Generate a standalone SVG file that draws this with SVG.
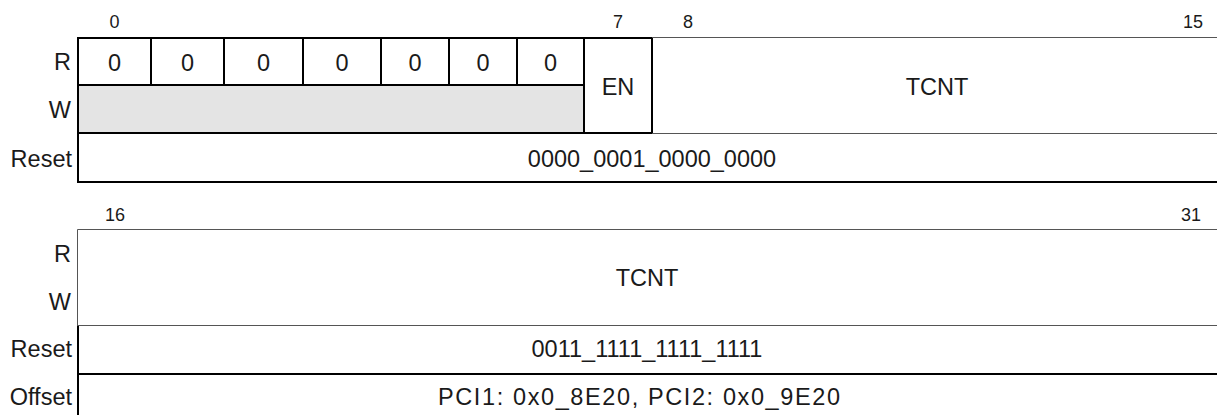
<svg xmlns="http://www.w3.org/2000/svg" width="1217" height="415" viewBox="0 0 1217 415">
<style>
text{font-family:"Liberation Sans",Arial,sans-serif;fill:#1a1a1a}
.lbl{font-size:23.5px;text-anchor:end}
.val{font-size:23.5px;text-anchor:middle}
.bit{font-size:18px;text-anchor:middle}
.thick{stroke:#000;stroke-width:2;fill:none}
.thin{stroke:#555;stroke-width:1;fill:none}
.wfill{fill:#e4e4e4}
</style>
<rect width="1217" height="415" fill="#fff"/>
<g id="top-register">
  <g id="bit-numbers-top">
    <text class="bit" x="114.5" y="28">0</text>
    <text class="bit" x="618" y="28">7</text>
    <text class="bit" x="688" y="28">8</text>
    <text class="bit" x="1193" y="28">15</text>
  </g>
  <g id="row-labels-top">
    <text class="lbl" x="71" y="70">R</text>
    <text class="lbl" x="71" y="118">W</text>
    <text class="lbl" x="72" y="167">Reset</text>
  </g>
  <g id="w-reserved">
    <rect class="wfill" x="78" y="85" width="506" height="48"/>
  </g>
  <g id="r-bits">
    <text class="val" x="114.5" y="71">0</text>
    <text class="val" x="187.5" y="71">0</text>
    <text class="val" x="263.5" y="71">0</text>
    <text class="val" x="342" y="71">0</text>
    <text class="val" x="415" y="71">0</text>
    <text class="val" x="483" y="71">0</text>
    <text class="val" x="550.5" y="71">0</text>
  </g>
  <g id="en">
    <text class="val" x="618" y="95">EN</text>
  </g>
  <g id="tcnt-low">
    <line class="thin" x1="652" y1="37.5" x2="1217" y2="37.5"/>
    <line class="thin" x1="652" y1="133.5" x2="1217" y2="133.5"/>
    <text class="val" x="937" y="95">TCNT</text>
  </g>
  <g id="reset-top">
    <text class="val" x="652" y="167">0000_0001_0000_0000</text>
  </g>
  <g id="grid-top">
    <path class="thick" d="M652,38 H78 V182 H1217 M78,85 H584 M78,133 H652 M652,38 V133 M584,38 V133"/>
    <path class="thick" d="M151,38 V85 M224,38 V85 M303,38 V85 M381,38 V85 M449,38 V85 M517,38 V85"/>
  </g>
</g>
<g id="bottom-register">
  <g id="bit-numbers-bottom">
    <text class="bit" x="115" y="221">16</text>
    <text class="bit" x="1191" y="221">31</text>
  </g>
  <g id="row-labels-bottom">
    <text class="lbl" x="71" y="262">R</text>
    <text class="lbl" x="71" y="310">W</text>
    <text class="lbl" x="72" y="357">Reset</text>
    <text class="lbl" x="72" y="405">Offset</text>
  </g>
  <g id="tcnt-high">
    <path class="thin" d="M1217,229.5 H77.5 V326 M77.5,325.5 H1217"/>
    <text class="val" x="647" y="286">TCNT</text>
  </g>
  <g id="reset-bottom">
    <path class="thick" d="M78,326 V415 M78,374 H1217"/>
    <text class="val" x="647" y="357">0011_1111_1111_1111</text>
  </g>
  <g id="offset">
    <text class="val" x="639" y="405" textLength="402" lengthAdjust="spacing">PCI1: 0x0_8E20, PCI2: 0x0_9E20</text>
  </g>
</g>
</svg>
